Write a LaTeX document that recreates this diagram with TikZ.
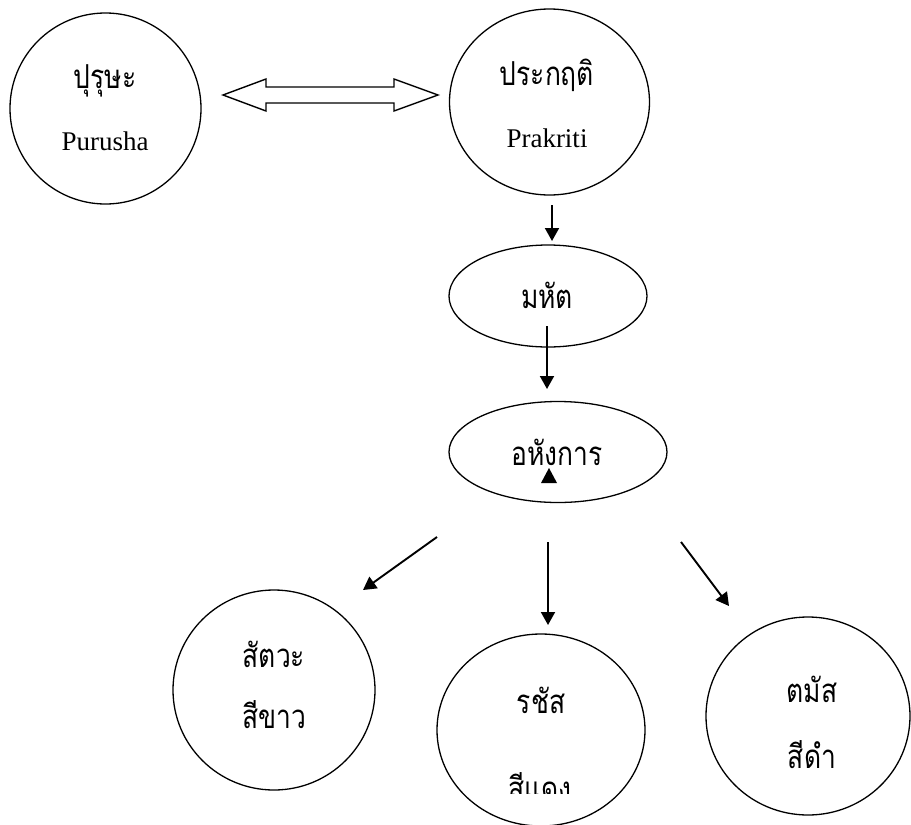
\documentclass[tikz,border=0pt]{standalone}
\usepackage{fontspec}
\setmainfont{Liberation Serif}
\newfontfamily\thai[Script=Thai,FakeStretch=0.8]{Loma}
\usetikzlibrary{shapes.geometric,arrows.meta,calc}
\tikzset{
  blob/.style={draw=black, line width=1.3pt, ellipse, inner sep=0pt},
  thaitxt/.style={font=\thai\fontsize{33}{38}\selectfont, inner sep=0pt, anchor=base},
  lattxt/.style={font=\fontsize{27}{32}\selectfont, inner sep=0pt, anchor=base},
  flow/.style={line width=1.9pt, -{Triangle[length=13pt,width=14pt]}},
  dbl/.style={draw=black, line width=1.4pt, fill=white, line join=miter}
}
\begin{document}
\begin{tikzpicture}[x=1pt,y=-1pt]
\useasboundingbox (0,0) rectangle (911,825);
% nodes
\node[blob, minimum width=191pt, minimum height=191pt] (pur) at (105.5,108.5) {};
\node[thaitxt] (purT) at (105,88) {ปุรุษะ};
\node[lattxt] (purE) at (105,150) {Purusha};

\node[blob, minimum width=200pt, minimum height=186pt] (pra) at (549.5,102) {};
\node[thaitxt] (praT) at (547,85) {ประกฤติ};
\node[lattxt] (praE) at (547,147) {Prakriti};

\node[blob, minimum width=198pt, minimum height=102pt] (mah) at (548,296) {};
\node[thaitxt] (mahT) at (547,308) {มหัต};

\node[blob, minimum width=218pt, minimum height=101pt] (aha) at (558,452) {};
\node[thaitxt] (ahaT) at (557,465) {อหังการ};

\node[blob, minimum width=202pt, minimum height=200pt] (sat) at (274,690) {};
\node[thaitxt] (satT) at (274,667) {สัตวะ};
\node[thaitxt] (satC) at (274,728) {สีขาว};

\node[blob, minimum width=208pt, minimum height=192pt] (raj) at (541,730) {};
\node[thaitxt] (rajT) at (541,713) {รชัส};
\begin{scope}
\clip (400,600) rectangle (700,793);
\node[thaitxt] (rajC) at (540,800) {สีแดง};
\end{scope}

\node[blob, minimum width=204pt, minimum height=198pt] (tam) at (808,716) {};
\node[thaitxt] (tamT) at (812,702) {ตมัส};
\node[thaitxt] (tamC) at (812,768) {สีดำ};

% connector end points
\coordinate (lA) at (223,95);
\coordinate (rA) at (438,95);
\coordinate (p1) at (552,205);
\coordinate (p2) at (552,241);
\coordinate (m1) at (547,326);
\coordinate (m2) at (547,389);
\coordinate (a1) at (437,537);
\coordinate (a2) at (363,590);
\coordinate (b1) at (548,542);
\coordinate (b2) at (548,625);
\coordinate (c1) at (681,542);
\coordinate (c2) at (729,606);

% double arrow between Purusha and Prakriti
\draw[dbl] (lA) -- ($(lA)+(43,-16)$) -- ($(lA)+(43,-8)$) -- ($(rA)+(-44,-8)$)
  -- ($(rA)+(-44,-16)$) -- (rA) -- ($(rA)+(-44,16)$) -- ($(rA)+(-44,8)$)
  -- ($(lA)+(43,8)$) -- ($(lA)+(43,16)$) -- cycle;

% flow arrows
\draw[flow] (p1) -- (p2);
\draw[flow] (m1) -- (m2);
\draw[flow] (a1) -- (a2);
\draw[flow] (b1) -- (b2);
\draw[flow] (c1) -- (c2);

% small triangle inside Ahankara
\fill[black] (541,483) -- (557,483) -- (549,468) -- cycle;
\end{tikzpicture}
\end{document}
